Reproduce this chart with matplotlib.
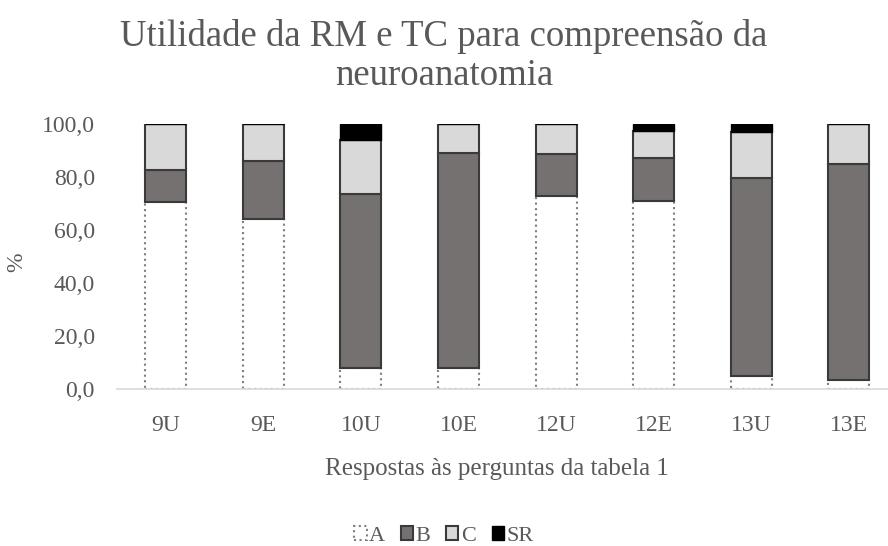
import matplotlib.pyplot as plt
import numpy as np

categories = ["9U", "9E", "10U", "10E", "12U", "12E", "13U", "13E"]
a_vals = [70.5, 64.0, 8.0, 8.0, 73.0, 71.0, 5.0, 3.5]
b_vals = [12.0, 22.0, 65.5, 81.0, 15.5, 16.0, 74.5, 81.5]
c_vals = [17.5, 14.0, 20.5, 11.0, 11.5, 10.5, 17.5, 15.0]
sr_vals = [0.0, 0.0, 6.0, 0.0, 0.0, 2.5, 3.0, 0.0]
y_ticks = [0, 20, 40, 60, 80, 100]

plt.rcParams['font.family'] = ['Liberation Serif', 'DejaVu Serif']
grey = "#595959"

fig = plt.figure(figsize=(8.88, 5.46), dpi=100)
ax = fig.add_axes([117 / 888, 1 - 389 / 546, 1 - 117 / 888, 265 / 546])

x = np.arange(len(categories))
w = 0.42
a = np.array(a_vals)
b = np.array(b_vals)
c = np.array(c_vals)
sr = np.array(sr_vals)

ax.bar(x, a, w, color="white", edgecolor="#7f7f7f", linestyle=":", linewidth=1.5, label="A")
ax.bar(x, b, w, bottom=a, color="#757171", edgecolor="#3a3a3a", linewidth=1.5, label="B")
ax.bar(x, c, w, bottom=a + b, color="#d9d9d9", edgecolor="#3a3a3a", linewidth=1.5, label="C")
ax.bar(x, sr, w, bottom=a + b + c, color="black", edgecolor="black", linewidth=1.0, label="SR")

ax.set_xlim(-0.5, 7.4)
ax.set_ylim(0, 100)
ax.set_yticks(y_ticks)
ax.set_yticklabels([f"{v:.1f}".replace(".", ",") for v in y_ticks])
ax.set_xticks(x)
ax.set_xticklabels(categories)
ax.tick_params(axis="both", length=0, labelsize=17, colors=grey)
ax.tick_params(axis="x", pad=19)
ax.tick_params(axis="y", pad=16)
for s in ["top", "right", "left"]:
    ax.spines[s].set_visible(False)
ax.spines["bottom"].set_color("#d9d9d9")
ax.spines["bottom"].set_linewidth(1.2)

ax.set_ylabel("%", fontsize=17, color=grey)
ax.yaxis.set_label_coords(-0.117, 0.479)
ax.set_xlabel("Respostas às perguntas da tabela 1", fontsize=18, color=grey)
ax.xaxis.set_label_coords(0.493, -0.262)

fig.text(0.5, 1 - 56 / 546, "Utilidade da RM e TC para compreensão da\nneuroanatomia", ha="center", va="center",
         fontsize=26.5, color=grey, linespacing=1.15)

leg = fig.legend(loc="center", bbox_to_anchor=(0.5, 1 - 536 / 546), ncol=4, frameon=False,
                 fontsize=16, handlelength=0.55, handleheight=0.55, handletextpad=0.12, columnspacing=0.7)
for t in leg.get_texts():
    t.set_color(grey)

fig.savefig("out.png", dpi=100)
